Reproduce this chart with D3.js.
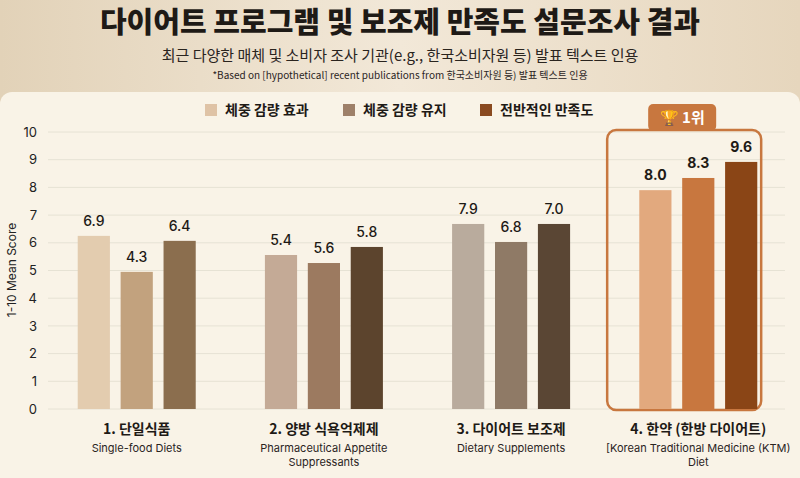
<!DOCTYPE html>
<html><head><meta charset="utf-8">
<script src="https://cdn.jsdelivr.net/npm/d3@7"></script>
<style>body{margin:0;background:#eadcc6;font-family:"Noto Sans CJK KR","Noto Sans",sans-serif}</style>
</head><body><svg id="chart" width="800" height="478"></svg>
<script>
var categories = ['1. 단일식품', '2. 양방 식욕억제제', '3. 다이어트 보조제', '4. 한약 (한방 다이어트)'];
var subLabels = [['Single-food Diets'], ['Pharmaceutical Appetite', 'Suppressants'], ['Dietary Supplements'], ['[Korean Traditional Medicine (KTM)', 'Diet']];
var seriesNames = ['체중 감량 효과', '체중 감량 유지', '전반적인 만족도'];
// bar heights as drawn in the picture
var effectValues = [6.25, 5.56, 6.68, 7.9];
var maintainValues = [4.95, 5.27, 6.03, 8.34];
var overallValues = [6.07, 5.85, 6.68, 8.92];
// printed labels above bars
var effectLabels = ['6.9', '5.4', '7.9', '8.0'];
var maintainLabels = ['4.3', '5.6', '6.8', '8.3'];
var overallLabels = ['6.4', '5.8', '7.0', '9.6'];
var yTicks = [0, 1, 2, 3, 4, 5, 6, 7, 8, 9, 10];

var colors = [
  ['#e3ccaf', '#c2a27e', '#8b6e4e'],
  ['#c4aa96', '#9c7a60', '#5c442d'],
  ['#b9ab9d', '#8f7a66', '#5a4634'],
  ['#e2a97e', '#c8773f', '#8a4516']
];
var legendColors = ['#dfc3a6', '#9e8069', '#8a4a20'];

var svg = d3.select('#chart');
var defs = svg.append('defs');
var g0 = defs.append('linearGradient').attr('id', 'bg').attr('x1', 0).attr('x2', 1);
g0.append('stop').attr('offset', 0).attr('stop-color', '#e2d2b8');
g0.append('stop').attr('offset', 0.5).attr('stop-color', '#f2e8d8');
g0.append('stop').attr('offset', 1).attr('stop-color', '#e6d6bd');
svg.append('rect').attr('width', 800).attr('height', 478).attr('fill', 'url(#bg)');
svg.append('rect').attr('x', 0).attr('y', 92).attr('width', 800).attr('height', 400).attr('rx', 12).attr('fill', '#f9f3e7');

svg.append('text').attr('x', 400).attr('y', 33).attr('text-anchor', 'middle').attr('font-size', 29).attr('font-weight', 900).attr('fill', '#1e1a16').text('다이어트 프로그램 및 보조제 만족도 설문조사 결과');
svg.append('text').attr('x', 400).attr('y', 61).attr('text-anchor', 'middle').attr('font-size', 15).attr('fill', '#2a241e').text('최근 다양한 매체 및 소비자 조사 기관(e.g., 한국소비자원 등) 발표 텍스트 인용');
svg.append('text').attr('x', 400).attr('y', 79).attr('text-anchor', 'middle').attr('font-size', 10).attr('fill', '#2a241e').text('*Based on [hypothetical] recent publications from 한국소비자원 등) 발표 텍스트 인용');

// legend
var lx = [205, 343, 480];
seriesNames.forEach(function(n, i) {
  svg.append('rect').attr('x', lx[i]).attr('y', 104).attr('width', 12).attr('height', 12).attr('fill', legendColors[i]);
  svg.append('text').attr('x', lx[i] + 20).attr('y', 115).attr('font-size', 14).attr('font-weight', 700).attr('fill', '#1e1a16').text(n);
});

var y = d3.scaleLinear().domain([0, 10]).range([409, 132]);
var x = d3.scaleBand().domain(categories).range([45, 790]).paddingInner(0.08).paddingOuter(0.03);
var xs = d3.scaleBand().domain([0, 1, 2]).range([0, 118]).paddingInner(0.25);

svg.append('g').selectAll('line').data(yTicks).join('line')
  .attr('x1', 48).attr('x2', 785).attr('y1', function(d) { return y(d); }).attr('y2', function(d) { return y(d); })
  .attr('stroke', '#e6e2d4').attr('stroke-width', 1);
var ax = svg.append('g').attr('transform', 'translate(40,0)').call(d3.axisLeft(y).tickValues(yTicks).tickSize(0));
ax.select('.domain').remove();
ax.selectAll('text').attr('font-size', 13).attr('fill', '#222').attr('font-family', 'Inter, sans-serif');
svg.append('text').attr('transform', 'translate(16,270) rotate(-90)').attr('text-anchor', 'middle').attr('font-size', 12).attr('fill', '#222').attr('font-family', 'Inter, sans-serif').text('1-10 Mean Score');

// highlight box
var hx = x(categories[3]);
svg.append('rect').attr('x', hx - 5).attr('y', 130).attr('width', 154).attr('height', 280).attr('rx', 9).attr('fill', 'none').attr('stroke', '#c8773f').attr('stroke-width', 2.5);
svg.append('rect').attr('x', hx + 36).attr('y', 104).attr('width', 68).attr('height', 27).attr('rx', 5).attr('fill', '#c8773f');
svg.append('text').attr('x', hx + 70).attr('y', 123).attr('text-anchor', 'middle').attr('font-size', 15).attr('font-weight', 700).attr('fill', '#fff').text('🏆 1위');

var vals = [effectValues, maintainValues, overallValues];
var labs = [effectLabels, maintainLabels, overallLabels];
categories.forEach(function(c, ci) {
  var gx = x(c) + (x.bandwidth() - 118) / 2;
  var grp = svg.append('g').attr('transform', 'translate(' + gx + ',0)');
  [0, 1, 2].forEach(function(s) {
    grp.append('rect').attr('x', xs(s)).attr('y', y(vals[s][ci])).attr('width', xs.bandwidth()).attr('height', y(0) - y(vals[s][ci])).attr('fill', colors[ci][s]);
    grp.append('text').attr('x', xs(s) + xs.bandwidth() / 2).attr('y', y(vals[s][ci]) - 10).attr('text-anchor', 'middle')
      .attr('font-size', 14).attr('font-weight', ci == 3 ? 700 : 500).attr('fill', '#1e1a16').attr('font-family', 'Inter, sans-serif').text(labs[s][ci]);
  });
  var cx = x(c) + x.bandwidth() / 2;
  svg.append('text').attr('x', cx).attr('y', 434).attr('text-anchor', 'middle').attr('font-size', 14).attr('font-weight', 700).attr('fill', '#1e1a16').text(c);
  subLabels[ci].forEach(function(t, k) {
    svg.append('text').attr('x', cx).attr('y', 452 + k * 14).attr('text-anchor', 'middle').attr('font-size', 11).attr('fill', '#2a241e').attr('font-family', 'Inter, sans-serif').text(t);
  });
});
</script></body></html>
